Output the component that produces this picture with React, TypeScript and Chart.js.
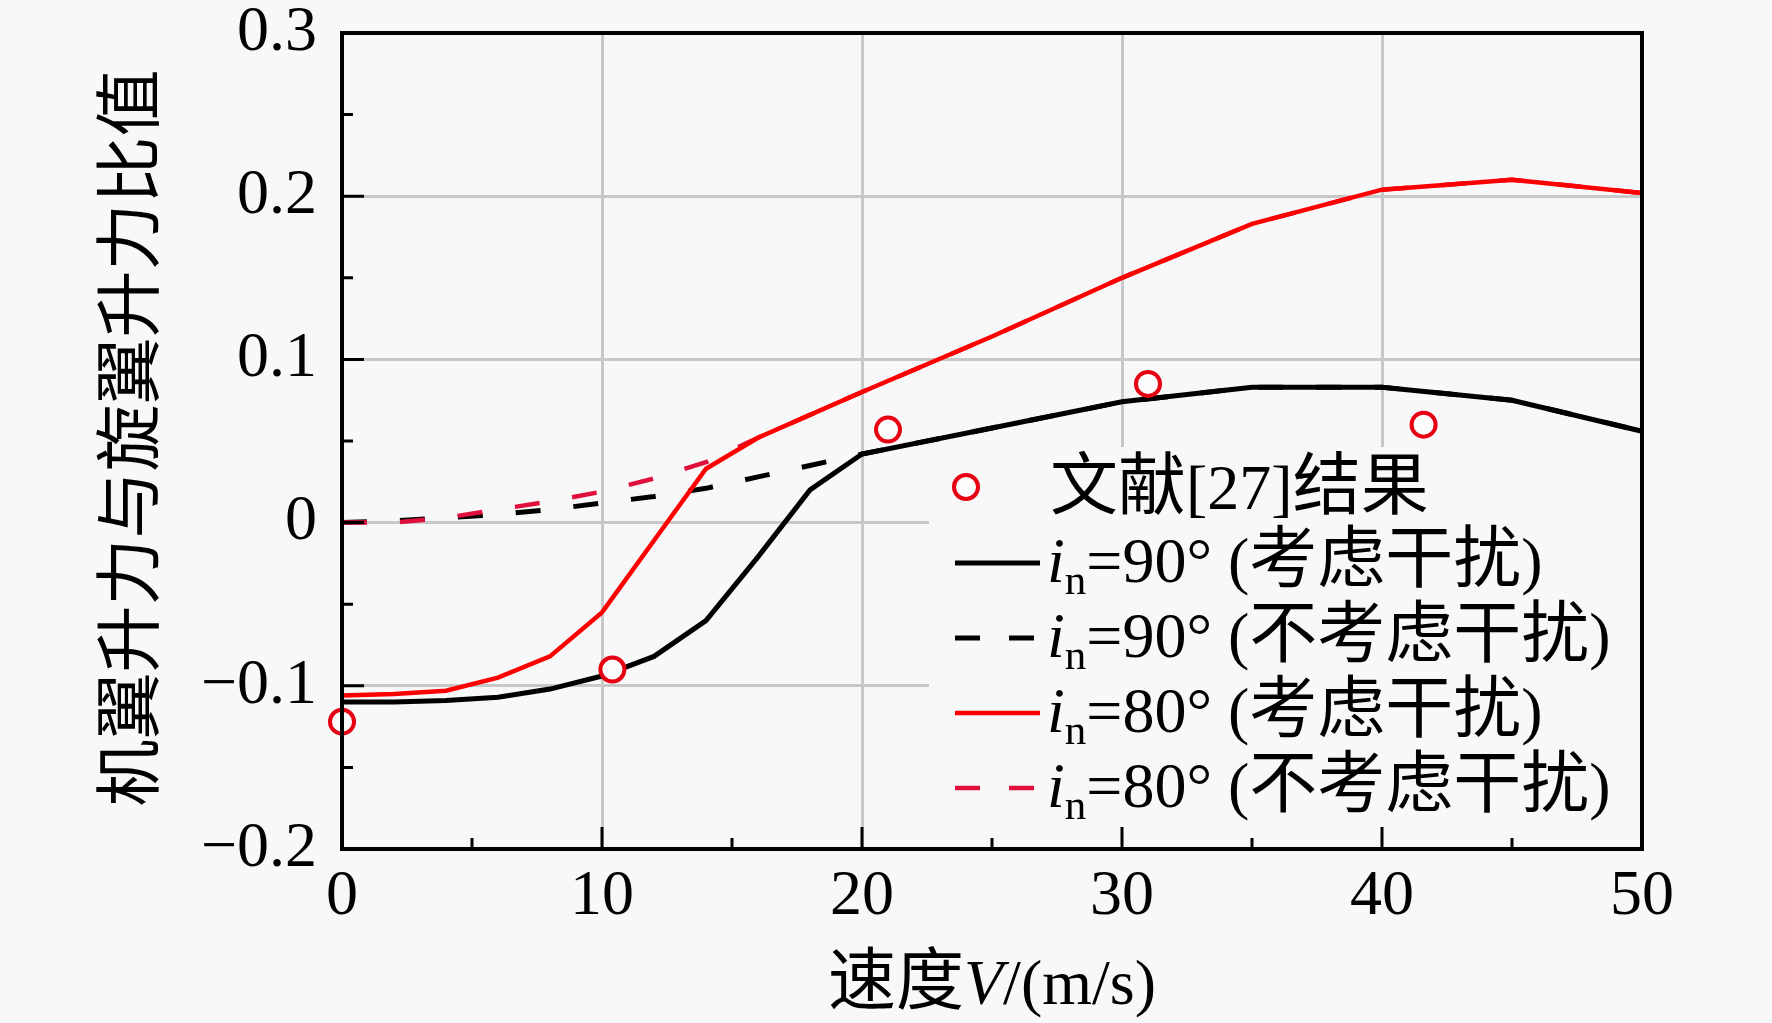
import { useEffect, useRef } from "react";
import { Chart, registerables } from "chart.js";

Chart.register(...registerables);

// 速度 (m/s)
const speeds = [0, 2, 4, 6, 8, 10, 12, 14, 16, 18, 20, 25, 30, 35, 40, 45, 50];
// i_n = 90° 考虑干扰 / 不考虑干扰
const in90Interf = [-0.11, -0.11, -0.109, -0.107, -0.102, -0.094, -0.082, -0.06, -0.021, 0.02, 0.042, 0.058, 0.074, 0.083, 0.083, 0.075, 0.056];
const in90NoInterf = [0.0, 0.001, 0.003, 0.005, 0.008, 0.012, 0.016, 0.021, 0.028, 0.035, 0.042, 0.058, 0.074, 0.083, 0.083, 0.075, 0.056];
// i_n = 80° 考虑干扰 / 不考虑干扰
const in80Interf = [-0.106, -0.105, -0.103, -0.095, -0.082, -0.055, -0.011, 0.033, 0.052, 0.066, 0.08, 0.114, 0.15, 0.183, 0.204, 0.21, 0.202];
const in80NoInterf = [0.0, 0.0, 0.003, 0.008, 0.013, 0.019, 0.027, 0.037, 0.052, 0.066, 0.08, 0.114, 0.15, 0.183, 0.204, 0.21, 0.202];
// 文献[27]结果
const refSpeeds = [0, 10.4, 21, 31, 41.6];
const refValues = [-0.122, -0.09, 0.057, 0.085, 0.06];

const xTickValues = [0, 10, 20, 30, 40, 50];
const xTickLabels = ["0", "10", "20", "30", "40", "50"];
const xMinorTicks = [5, 15, 25, 35, 45];
const yTickValues = [-0.2, -0.1, 0, 0.1, 0.2, 0.3];
const yTickLabels = ["\u22120.2", "\u22120.1", "0", "0.1", "0.2", "0.3"];
const yMinorTicks = [-0.15, -0.05, 0.05, 0.15, 0.25];

const yTitle = "机翼升力与旋翼升力比值";
const xTitleCn = "速度";
const xTitleVar = "V";
const xTitleUnit = "/(m/s)";

const BLACK = "#000000";
const RED = "#ff0000";
const RED_DASH = "#e0103c";
const REF_RED = "#e60012";
const BG = "#f8f8f8";
const DASH = [25, 33];

const SERIF = '"Liberation Serif", "Times New Roman", serif';
const CJK = '"Noto Sans CJK SC", sans-serif';

const legendRows = [
  { kind: "circle", color: REF_RED, dash: [] as number[], angle: "", note: "" },
  { kind: "line", color: BLACK, dash: [] as number[], angle: "=90°", note: "考虑干扰" },
  { kind: "line", color: BLACK, dash: [25, 29], angle: "=90°", note: "不考虑干扰" },
  { kind: "line", color: RED, dash: [] as number[], angle: "=80°", note: "考虑干扰" },
  { kind: "line", color: RED_DASH, dash: [25, 29], angle: "=80°", note: "不考虑干扰" },
];

type Run = { text: string; font: string; dy?: number };

function drawRuns(ctx: CanvasRenderingContext2D, runs: Run[], x: number, y: number) {
  let cx = x;
  for (const r of runs) {
    ctx.font = r.font;
    ctx.fillText(r.text, cx, y + (r.dy || 0));
    cx += ctx.measureText(r.text).width;
  }
  return cx;
}

function runsWidth(ctx: CanvasRenderingContext2D, runs: Run[]) {
  let w = 0;
  for (const r of runs) {
    ctx.font = r.font;
    w += ctx.measureText(r.text).width;
  }
  return w;
}

const figurePlugin = {
  id: "figure",
  beforeDatasetsDraw(chart: any) {
    const { ctx, chartArea } = chart;
    // legend box hides the grid behind it
    ctx.save();
    ctx.fillStyle = BG;
    ctx.fillRect(929, 447, chartArea.right - 929 - 2, chartArea.bottom - 447 - 2);
    ctx.restore();
  },
  afterDraw(chart: any) {
    const { ctx, chartArea, scales } = chart;
    const { left, right, top, bottom } = chartArea;
    const xs = scales.x;
    const ys = scales.y;
    ctx.save();

    // ticks (inside)
    ctx.strokeStyle = BLACK;
    ctx.lineWidth = 3;
    ctx.beginPath();
    xTickValues.forEach((v) => {
      const px = xs.getPixelForValue(v);
      ctx.moveTo(px, bottom);
      ctx.lineTo(px, bottom - 22);
    });
    xMinorTicks.forEach((v) => {
      const px = xs.getPixelForValue(v);
      ctx.moveTo(px, bottom);
      ctx.lineTo(px, bottom - 11);
    });
    yTickValues.forEach((v) => {
      const py = ys.getPixelForValue(v);
      ctx.moveTo(left, py);
      ctx.lineTo(left + 22, py);
    });
    yMinorTicks.forEach((v) => {
      const py = ys.getPixelForValue(v);
      ctx.moveTo(left, py);
      ctx.lineTo(left + 11, py);
    });
    ctx.stroke();

    // frame
    ctx.lineWidth = 4;
    ctx.strokeRect(left, top, right - left, bottom - top);

    // y title
    ctx.fillStyle = BLACK;
    ctx.save();
    ctx.translate(128, 438);
    ctx.rotate(-Math.PI / 2);
    ctx.textAlign = "center";
    ctx.textBaseline = "middle";
    ctx.font = `67px ${CJK}`;
    ctx.fillText(yTitle, 0, 0);
    ctx.restore();

    // x title
    ctx.textAlign = "left";
    ctx.textBaseline = "alphabetic";
    const xRuns: Run[] = [
      { text: xTitleCn, font: `68px ${CJK}` },
      { text: xTitleVar, font: `italic 64px ${SERIF}` },
      { text: xTitleUnit, font: `64px ${SERIF}` },
    ];
    const cx = (left + right) / 2;
    drawRuns(ctx, xRuns, cx - runsWidth(ctx, xRuns) / 2, 1004);

    // legend
    const rowY = [487, 563, 638, 713, 788];
    legendRows.forEach((row, i) => {
      const y = rowY[i];
      if (row.kind === "circle") {
        ctx.beginPath();
        ctx.arc(966, y, 12, 0, Math.PI * 2);
        ctx.fillStyle = "#fcfcfc";
        ctx.fill();
        ctx.strokeStyle = row.color;
        ctx.lineWidth = 4;
        ctx.setLineDash([]);
        ctx.stroke();
        ctx.fillStyle = BLACK;
        drawRuns(
          ctx,
          [
            { text: "文献", font: `68px ${CJK}` },
            { text: "[27]", font: `64px ${SERIF}` },
            { text: "结果", font: `68px ${CJK}` },
          ],
          1050,
          y + 22
        );
      } else {
        ctx.beginPath();
        ctx.strokeStyle = row.color;
        ctx.lineWidth = row.color === BLACK ? 5 : 4.5;
        ctx.setLineDash(row.dash);
        ctx.moveTo(955, y);
        ctx.lineTo(1040, y);
        ctx.stroke();
        ctx.setLineDash([]);
        ctx.fillStyle = BLACK;
        drawRuns(
          ctx,
          [
            { text: "i", font: `italic 64px ${SERIF}` },
            { text: "n", font: `43px ${SERIF}`, dy: 12 },
            { text: row.angle + " (", font: `64px ${SERIF}` },
            { text: row.note, font: `68px ${CJK}` },
            { text: ")", font: `64px ${SERIF}` },
          ],
          1047,
          y + 19
        );
      }
    });

    ctx.restore();
  },
};

const pts = (xs: number[], ys: number[]) => xs.map((x, i) => ({ x, y: ys[i] }));

export default function App() {
  const canvasRef = useRef<HTMLCanvasElement>(null);

  useEffect(() => {
    if (!canvasRef.current) return;
    const chart = new Chart(canvasRef.current, {
      type: "line",
      data: {
        datasets: [
          {
            type: "scatter",
            data: pts(refSpeeds, refValues),
            showLine: false,
            pointRadius: 12,
            pointBorderWidth: 4,
            pointBorderColor: REF_RED,
            pointBackgroundColor: "#fcfcfc",
            clip: false,
          } as any,
          {
            data: pts(speeds, in90Interf),
            borderColor: BLACK,
            borderWidth: 5,
            pointRadius: 0,
            tension: 0,
            clip: false,
          },
          {
            data: pts(speeds, in80Interf),
            borderColor: RED,
            borderWidth: 4.5,
            pointRadius: 0,
            tension: 0,
            clip: false,
          },
          {
            data: pts(speeds, in80NoInterf),
            borderColor: RED_DASH,
            borderWidth: 4.5,
            borderDash: DASH,
            pointRadius: 0,
            tension: 0,
            clip: false,
          },
          {
            data: pts(speeds, in90NoInterf),
            borderColor: BLACK,
            borderWidth: 5,
            borderDash: DASH,
            pointRadius: 0,
            tension: 0,
            clip: false,
          },
        ],
      },
      options: {
        responsive: false,
        devicePixelRatio: 1,
        animation: false,
        events: [],
        layout: { padding: { top: 33, right: 130, left: 0, bottom: 0 } },
        plugins: {
          legend: { display: false },
          tooltip: { enabled: false },
        },
        scales: {
          x: {
            type: "linear",
            min: 0,
            max: 50,
            afterFit: (s: any) => {
              s.height = 174;
              s.paddingLeft = 0;
              s.paddingRight = 0;
            },
            afterBuildTicks: (s: any) => {
              s.ticks = xTickValues.map((v) => ({ value: v }));
            },
            ticks: {
              padding: 10,
              color: BLACK,
              font: { family: SERIF, size: 64 },
              callback: (v: any) => xTickLabels[xTickValues.indexOf(Number(v))] ?? "",
            },
            grid: { color: "#c8c8c8", lineWidth: 3, drawTicks: false },
            border: { display: false },
          },
          y: {
            type: "linear",
            min: -0.2,
            max: 0.3,
            afterFit: (s: any) => {
              s.width = 342;
              s.paddingTop = 0;
              s.paddingBottom = 0;
            },
            afterBuildTicks: (s: any) => {
              s.ticks = yTickValues.map((v) => ({ value: v }));
            },
            ticks: {
              padding: 25,
              color: BLACK,
              font: { family: SERIF, size: 64 },
              callback: (v: any) => {
                const i = yTickValues.findIndex((t) => Math.abs(t - Number(v)) < 1e-9);
                return i >= 0 ? yTickLabels[i] : "";
              },
            },
            grid: { color: "#c8c8c8", lineWidth: 3, drawTicks: false },
            border: { display: false },
          },
        },
      },
      plugins: [figurePlugin],
    });
    return () => chart.destroy();
  }, []);

  return (
    <div style={{ position: "fixed", left: 0, top: 0, width: 1772, height: 1023, background: BG }}>
      <canvas ref={canvasRef} width={1772} height={1023} />
    </div>
  );
}
